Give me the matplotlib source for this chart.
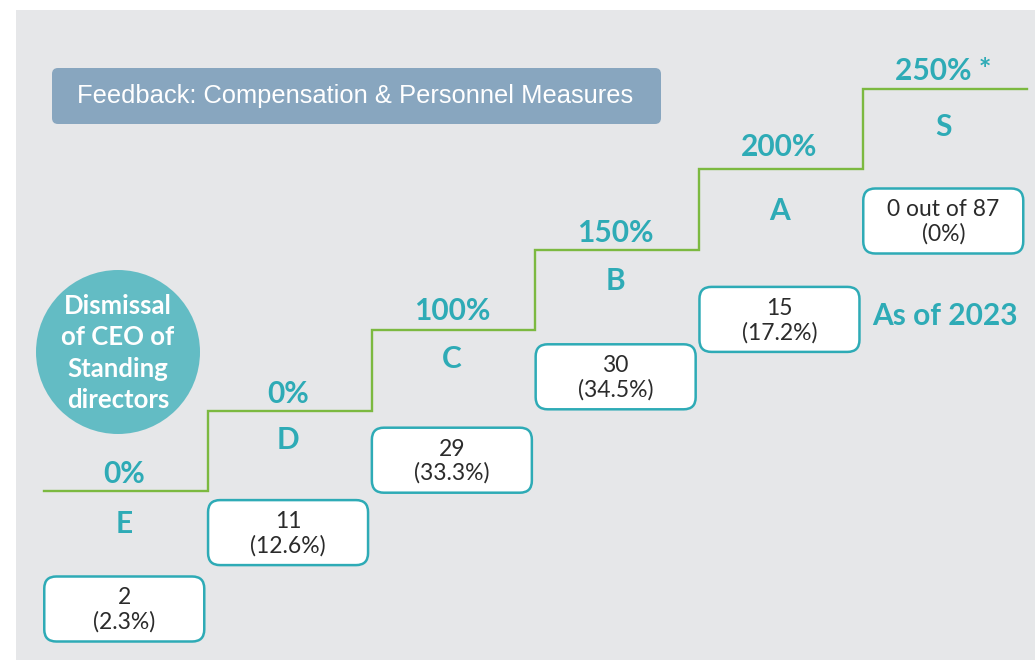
import matplotlib
matplotlib.use("Agg")
import matplotlib.pyplot as plt
from matplotlib.patches import FancyBboxPatch, Ellipse

# ---- data ----
grades = ['E', 'D', 'C', 'B', 'A', 'S']
payout_labels = ['0%', '0%', '100%', '150%', '200%', '250% *']
counts = [2, 11, 29, 30, 15, 0]
shares = [2.3, 12.6, 33.3, 34.5, 17.2, 0.0]
total_ceos = 87
title = 'Feedback: Compensation & Personnel Measures'
circle_label = 'Dismissal\nof CEO of\nStanding\ndirectors'
year_note = 'As of 2023'

# ---- style ----
BG = '#e6e7e9'
TEAL = '#2eabb6'
CIRCLE = '#63bcc4'
GREEN = '#7cb940'
TITLE_BG = '#88a6bf'
BOX_TXT = '#2b2b2b'
W, H = 1035, 660
FONT = 'Lato'
BIG = 21.5

fig = plt.figure(figsize=(W / 100, H / 100), dpi=100)
fig.patch.set_facecolor('white')
ax = fig.add_axes([16 / W, 0, (W - 16) / W, (H - 10) / H])
ax.set_facecolor(BG)
for s in ax.spines.values():
    s.set_visible(False)
ax.set_xticks([])
ax.set_yticks([])

# scale: one step = 163.8 px wide, 80.4 px tall
px_x = 163.8
px_y = 80.4
x0_px, y0_px = 44, 491
ax.set_xlim((16 - x0_px) / px_x, (W - x0_px) / px_x)
ax.set_ylim((y0_px - H) / px_y, (y0_px - 10) / px_y)

n = len(grades)
levels = list(range(n))
xs = list(range(n + 1))
ax.step(xs, levels + [levels[-1]], where='post', color=GREEN, lw=1.7,
        solid_joinstyle='miter', zorder=2)

# per-step layout offsets (pixels)
pct_above = [17, 17, 19, 17, 22, 18]
grade_below = [33, 29, 29, 31, 42, 38]
box_below = [118, 122, 130, 127, 150, 132]

box_w = 160 / px_x
box_h = 65 / px_y
aspect = px_x / px_y
for i, g in enumerate(grades):
    cx = i + 0.49
    lvl = levels[i]
    ax.text(cx, lvl + pct_above[i] / px_y, payout_labels[i], ha='center', va='center',
            color=TEAL, fontsize=BIG, fontweight='bold', family=FONT, zorder=3)
    ax.text(cx, lvl - grade_below[i] / px_y, g, ha='center', va='center',
            color=TEAL, fontsize=BIG, fontweight='bold', family=FONT, zorder=3)
    by = lvl - box_below[i] / px_y
    r = 12 / px_x
    box = FancyBboxPatch((cx - box_w / 2, by - box_h / 2), box_w, box_h,
                         boxstyle=f'round,pad=0,rounding_size={r}',
                         mutation_aspect=aspect,
                         facecolor='white', edgecolor=TEAL, lw=1.8, zorder=3)
    ax.add_patch(box)
    top = f'{counts[i]}' if grades[i] != 'S' else f'{counts[i]} out of {total_ceos}'
    ax.text(cx, by + 11 / px_y, top, ha='center', va='center', color=BOX_TXT,
            fontsize=16.5, family=FONT, zorder=4)
    ax.text(cx, by - 13 / px_y, f'({shares[i]:g}%)', ha='center', va='center',
            color=BOX_TXT, fontsize=16.5, family=FONT, zorder=4)

# "As of 2023"
ax.text((945 - x0_px) / px_x, (y0_px - 316) / px_y, year_note, ha='center', va='center',
        color=TEAL, fontsize=BIG, fontweight='bold', family=FONT, zorder=3)

# circle
ccx, ccy = (118 - x0_px) / px_x, (y0_px - 352) / px_y
ax.add_patch(Ellipse((ccx, ccy), 164 / px_x, 164 / px_y, facecolor=CIRCLE,
                     edgecolor='none', zorder=2))
ax.text(ccx, ccy - 1 / px_y, circle_label, ha='center', va='center', color='white',
        fontsize=18.5, fontweight='bold', family=FONT, linespacing=1.36, zorder=3)

# title box (figure pixels)
tb = FancyBboxPatch((52 / W, 1 - 124 / H), 609 / W, 56 / H,
                    boxstyle=f'round,pad=0,rounding_size={6 / W}',
                    mutation_aspect=W / H, transform=fig.transFigure,
                    facecolor=TITLE_BG, edgecolor='none', zorder=5)
fig.patches.append(tb)
fig.text(355 / W, 1 - 96 / H, title, ha='center', va='center', color='white',
         fontsize=18.4, family='Liberation Sans', zorder=6)

fig.savefig('out.png', dpi=100, facecolor=fig.get_facecolor())
